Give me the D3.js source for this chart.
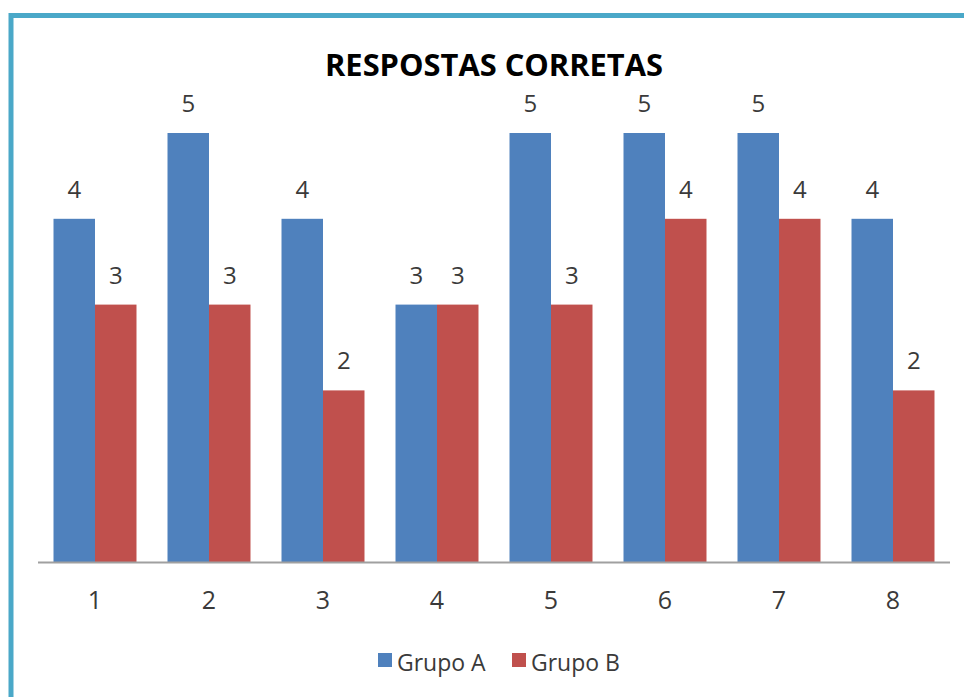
<!DOCTYPE html>
<html>
<head>
<meta charset="utf-8">
<script src="https://cdn.jsdelivr.net/npm/d3@7"></script>
<style>
  body { margin: 0; background: #fff; }
  svg { display: block; }
</style>
</head>
<body>
<div id="chart"></div>
<script>
var categories = ['1', '2', '3', '4', '5', '6', '7', '8'];
var grupoA = [4, 5, 4, 3, 5, 5, 5, 4];
var grupoB = [3, 3, 2, 3, 3, 4, 4, 2];
var seriesNames = ['Grupo A', 'Grupo B'];
var seriesColors = ['#4f81bd', '#c0504d'];

var width = 964;
var height = 697;
var font = "'Open Sans', 'DejaVu Sans', sans-serif";

var svg = d3.select('#chart')
    .append('svg')
    .attr('width', width)
    .attr('height', height);

// frame (only top and left edges visible)
svg.append('path')
    .attr('d', 'M11,' + height + ' V15.5 H' + width)
    .attr('fill', 'none')
    .attr('stroke', '#4aa8c8')
    .attr('stroke-width', 5);

var rows = categories.map(function(c, i) {
    return { cat: c, values: [grupoA[i], grupoB[i]] };
});

var scaleX = d3.scaleBand()
    .domain(categories)
    .range([38, 950])
    .paddingInner(0.272)
    .paddingOuter(0.136);

var scaleSub = d3.scaleBand()
    .domain([0, 1])
    .range([0, scaleX.bandwidth()]);

var scaleY = d3.scaleLinear()
    .domain([0, 5])
    .range([562, 133]);

// title
svg.append('text')
    .attr('x', 494)
    .attr('y', 76)
    .attr('text-anchor', 'middle')
    .attr('font-family', font)
    .attr('font-weight', 'bold')
    .attr('font-size', 31)
    .attr('textLength', 338)
    .attr('lengthAdjust', 'spacingAndGlyphs')
    .attr('fill', '#000')
    .text('RESPOSTAS CORRETAS');

var groups = svg.selectAll('g.cat')
    .data(rows)
    .enter()
    .append('g')
    .attr('class', 'cat')
    .attr('transform', function(d) { return 'translate(' + scaleX(d.cat) + ',0)'; });

groups.selectAll('rect')
    .data(function(d) { return d.values; })
    .enter()
    .append('rect')
    .attr('x', function(d, i) { return scaleSub(i); })
    .attr('y', function(d) { return scaleY(d); })
    .attr('width', scaleSub.bandwidth())
    .attr('height', function(d) { return scaleY(0) - scaleY(d); })
    .attr('fill', function(d, i) { return seriesColors[i]; });

groups.selectAll('text')
    .data(function(d) { return d.values; })
    .enter()
    .append('text')
    .attr('x', function(d, i) { return scaleSub(i) + scaleSub.bandwidth() / 2; })
    .attr('y', function(d) { return scaleY(d) - 21; })
    .attr('text-anchor', 'middle')
    .attr('font-family', font)
    .attr('font-size', 24)
    .attr('fill', '#3a3a3a')
    .text(function(d) { return d; });

// x axis
var xAxis = d3.axisBottom(scaleX).tickSize(0).tickPadding(0);
var axisG = svg.append('g')
    .attr('transform', 'translate(0,' + scaleY(0) + ')')
    .call(xAxis);
axisG.select('.domain')
    .attr('d', 'M38,0.5 H950')
    .attr('stroke', '#a0a0a0')
    .attr('stroke-width', 2);
axisG.selectAll('.tick text')
    .attr('dy', null)
    .attr('y', 47)
    .attr('font-family', font)
    .attr('font-size', 25)
    .attr('fill', '#3a3a3a');

// legend
var legendX = [378, 512];
var legend = svg.selectAll('g.legend')
    .data(seriesNames)
    .enter()
    .append('g')
    .attr('class', 'legend')
    .attr('transform', function(d, i) { return 'translate(' + legendX[i] + ',653)'; });
legend.append('rect')
    .attr('width', 14)
    .attr('height', 14)
    .attr('fill', function(d, i) { return seriesColors[i]; });
legend.append('text')
    .attr('x', 19)
    .attr('y', 18)
    .attr('font-family', font)
    .attr('font-size', 23)
    .attr('fill', '#3a3a3a')
    .text(function(d) { return d; });
</script>
</body>
</html>
